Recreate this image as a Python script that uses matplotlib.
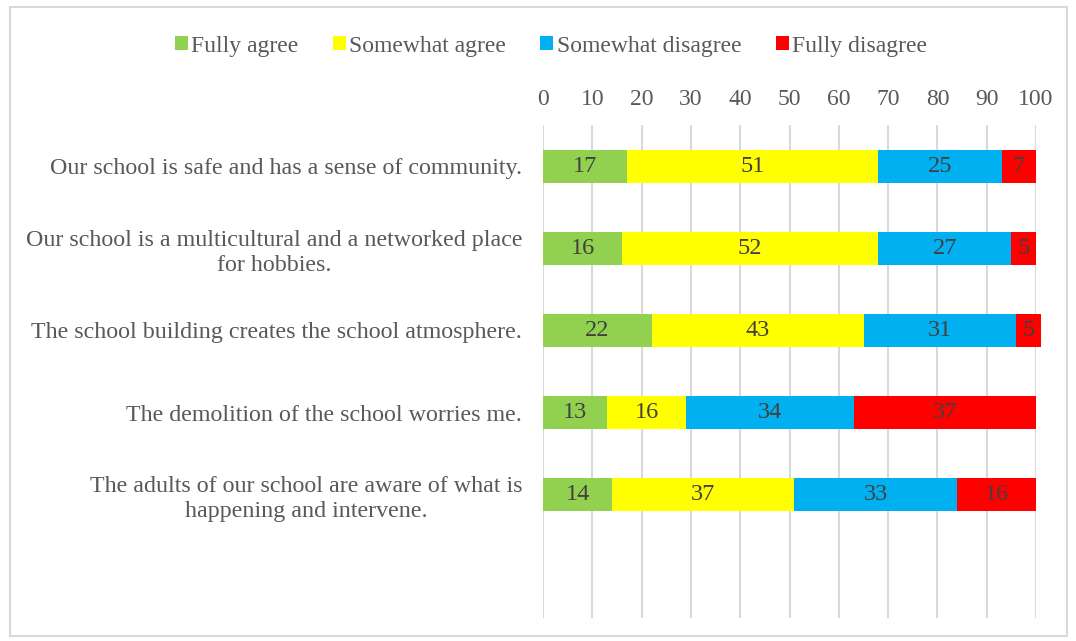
import matplotlib.pyplot as plt
from matplotlib.patches import Rectangle
import numpy as np

plt.rcParams['font.family'] = ['Liberation Serif', 'DejaVu Serif']

# Data
statements = [
    'Our school is safe and has a sense of community.',
    'Our school is a multicultural and a networked place\nfor hobbies.',
    'The school building creates the school atmosphere.',
    'The demolition of the school worries me.',
    'The adults of our school are aware of what is\nhappening and intervene.',
]
series_names = ['Fully agree', 'Somewhat agree', 'Somewhat disagree', 'Fully disagree']
fully_agree = [17, 16, 22, 13, 14]
somewhat_agree = [51, 52, 43, 16, 37]
somewhat_disagree = [25, 27, 31, 34, 33]
fully_disagree = [7, 5, 5, 37, 16]
colors = ['#92d050', '#ffff00', '#00b0f0', '#ff0000']
x_ticks = list(range(0, 101, 10))

series = [fully_agree, somewhat_agree, somewhat_disagree, fully_disagree]

fig = plt.figure(figsize=(10.76, 6.41), dpi=100)
ax = fig.add_axes([0.5047, 0.036, 0.4582, 0.769])

y = np.arange(len(statements))
left = np.zeros(len(statements))
for name, vals, col in zip(series_names, series, colors):
    vals = np.array(vals, dtype=float)
    bars = ax.barh(y, vals, left=left, height=0.4, color=col, label=name,
                   clip_on=False, zorder=3)
    for b, v in zip(bars, vals):
        ax.text(b.get_x() + b.get_width() / 2, b.get_y() + b.get_height() / 2,
                f'{int(v)}', ha='center', va='center', fontsize=17.5,
                color='#404040', zorder=4)
    left += vals

ax.set_xlim(0, 100)
ax.set_ylim(5.5, -0.5)
ax.set_xticks(x_ticks)
ax.xaxis.tick_top()
ax.tick_params(axis='x', length=0, pad=11, labelsize=17, labelcolor='#595959')
ax.set_yticks(y)
ax.set_yticklabels(statements, fontsize=17.3, color='#595959', linespacing=1.25)
ax.tick_params(axis='y', length=0, pad=15)
for lab in ax.get_yticklabels():
    lab.set_horizontalalignment('right')
    lab.set_multialignment('center')
ax.grid(axis='x', color='#d9d9d9', linewidth=1.5, zorder=0)
ax.set_axisbelow(True)
for s in ax.spines.values():
    s.set_visible(False)

handles, labels = ax.get_legend_handles_labels()
fig.legend(handles, labels, loc='center', bbox_to_anchor=(0.512, 0.928), ncol=4,
           frameon=False, fontsize=17, handlelength=0.55, handleheight=0.55,
           handletextpad=0.15, columnspacing=1.45, labelcolor='#595959')

# outer border
fig.patches.append(Rectangle((0.009, 0.008), 0.983, 0.981, transform=fig.transFigure,
                             fill=False, edgecolor='#d9d9d9', linewidth=1.5))

fig.savefig('out.png', dpi=100)
